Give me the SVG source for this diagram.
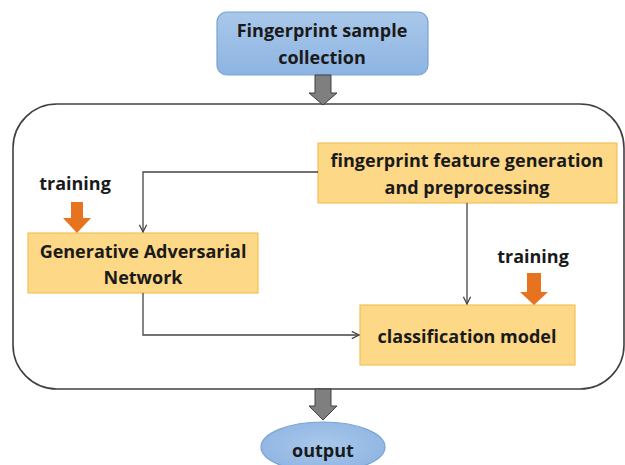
<svg xmlns="http://www.w3.org/2000/svg" width="625" height="465" viewBox="0 0 625 465">
<style>
text{font-family:"Open Sans","Liberation Sans",Arial,sans-serif;font-weight:bold;fill:#1a1a1a;text-anchor:middle;font-size:18px}
.obox{fill:#FDD886;stroke:#F2C25A;stroke-width:1.2}
.conn{fill:none;stroke:#444;stroke-width:1.3}
.garrow{fill:#7F7F7F;stroke:#404040;stroke-width:1}
.oarrow{fill:#E8731E;stroke:none}
</style>
<defs>
<linearGradient id="blue" x1="0" y1="0" x2="0" y2="1">
<stop offset="0" stop-color="#A9C8EA"/>
<stop offset="1" stop-color="#8DB4E2"/>
</linearGradient>
<radialGradient id="blueE" cx="0.5" cy="0.45" r="0.6">
<stop offset="0" stop-color="#A9C8EA"/>
<stop offset="1" stop-color="#8DB4E2"/>
</radialGradient>
<marker id="open" viewBox="0 0 10 10" refX="9" refY="5" markerWidth="9" markerHeight="9" markerUnits="userSpaceOnUse" orient="auto">
<path d="M1,1 L9,5 L1,9" fill="none" stroke="#444" stroke-width="1.4"/>
</marker>
</defs>
<g id="container">
<rect x="13" y="104" width="611" height="285" rx="44" ry="44" fill="#fff" stroke="#404040" stroke-width="1.6"/>
</g>
<g id="collection">
<rect x="217" y="12" width="211" height="63" rx="10" ry="10" fill="url(#blue)" stroke="#7BA3D3" stroke-width="1.2"/>
<text x="322" y="37">Fingerprint sample</text>
<text x="322" y="64">collection</text>
</g>
<g id="feature">
<rect class="obox" x="318" y="143" width="299" height="60"/>
<text x="467" y="167">fingerprint feature generation</text>
<text x="467" y="194">and preprocessing</text>
</g>
<g id="gan">
<rect class="obox" x="28" y="233" width="230" height="60"/>
<text x="143" y="258">Generative Adversarial</text>
<text x="143" y="284">Network</text>
</g>
<g id="classification">
<rect class="obox" x="360" y="305" width="215" height="60"/>
<text x="467" y="343">classification model</text>
</g>
<g id="training-left">
<text x="75" y="190">training</text>
<path class="oarrow" d="M71,202 H83 V218 H91 L77,233 L63,218 H71 Z"/>
</g>
<g id="training-right">
<text x="533" y="263">training</text>
<path class="oarrow" d="M527,273 H541 V292 H548 L534,305 L520,292 H527 Z"/>
</g>
<g id="output">
<ellipse cx="323" cy="447" rx="62" ry="25" fill="url(#blueE)" stroke="#7BA3D3" stroke-width="1.2"/>
<text x="323" y="457">output</text>
</g>
<g id="connectors">
<path class="garrow" d="M315,75 H331 V93 H337 L323,105 L309,93 H315 Z"/>
<path class="garrow" d="M315,389 H331 V406 H337 L323,420 L309,406 H315 Z"/>
<path class="conn" d="M318,172 H143 V232" marker-end="url(#open)"/>
<path class="conn" d="M467,203 V304" marker-end="url(#open)"/>
<path class="conn" d="M143,293 V335 H359" marker-end="url(#open)"/>
</g>
</svg>
